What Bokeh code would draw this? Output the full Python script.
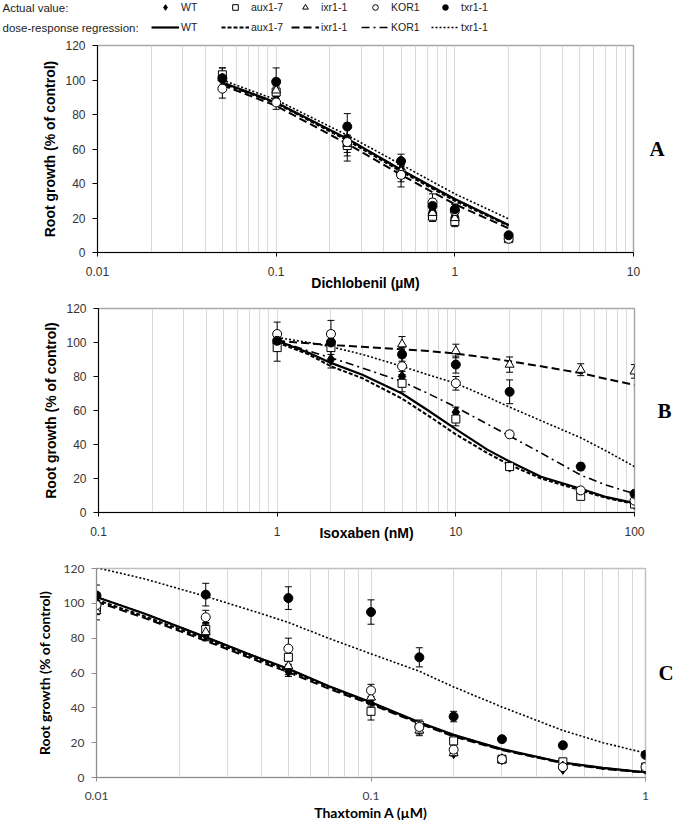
from bokeh.plotting import figure
from bokeh.layouts import column
from bokeh.models import (ColumnDataSource, Whisker, TeeHead, FixedTicker, LinearAxis,
                          CustomJSTickFormatter, Legend, LegendItem, Label, Range1d)
from bokeh.embed import file_html
from bokeh.resources import INLINE

strains = ["WT", "aux1-7", "ixr1-1", "KOR1", "txr1-1"]
y_ticks = [0, 20, 40, 60, 80, 100, 120]

# ---------------- Panel A : Dichlobenil (uM) ----------------
a_x = [0.05, 0.1, 0.25, 0.5, 0.75, 1, 2]
a_wt = [100, 91, 66, 48, 24, 21, 9]
a_wt_err = [5, 5, 6, 5, 4, 4, 1.5]
a_aux = [103, 93, 62, 46, 21, 18, 8]
a_aux_err = [4, 4, 6, 5, 3, 3, 1.5]
a_ixr = [101, 94, 63, 47, 23, 20, 8]
a_ixr_err = [4, 5, 5, 4, 3, 3, 1.5]
a_kor = [95, 87, 64, 45, 29, 24, 8]
a_kor_err = [5.5, 4, 11, 7, 5, 4, 1.5]
a_txr = [101, 99, 73, 53, 27, 25, 10]
a_txr_err = [6, 8, 7.5, 4, 4, 3, 1.5]

a_fx = [0.05, 0.1, 0.25, 0.5, 0.75, 1, 2]
a_fit_wt = [98.5, 87, 66, 48, 38, 31, 16]
a_fit_aux = [98, 86.5, 65, 47, 37, 30, 15.5]
a_fit_ixr = [97, 85, 63, 45, 35, 28, 14]
a_fit_kor = [98, 86.5, 66, 48, 38, 31, 16]
a_fit_txr = [100, 88.5, 68, 51, 41, 34, 19.5]

# ---------------- Panel B : Isoxaben (nM) ----------------
b_x = [1, 2, 5, 10, 20, 50, 100]
b_wt = [101, 90, 80, 59, 27, 11, 5]
b_wt_err = [3, 5, 3, 3, 2, 1.5, 1]
b_aux = [97, 97, 76, 55, 27, 9.5, 5]
b_aux_err = [8, 4, 5, 4, 2, 1.5, 1]
b_ixr = [101, 102, 99, 95, 87, 84, 83]
b_ixr_err = [5, 5, 4.5, 4, 4.5, 3.5, 4]
b_kor = [105, 105, 86, 76, 46, 13, 7]
b_kor_err = [7, 8, 5, 4, 2, 1.5, 1]
b_txr = [101, 100, 93, 87, 71, 27, 11]
b_txr_err = [4, 4, 4, 5, 7, 2, 1.5]

b_fx = [1, 1.5, 2, 3, 5, 7, 10, 15, 20, 30, 50, 70, 100]
b_fit_wt = [101, 94, 88, 81, 70, 60, 49, 37, 30, 21, 14, 9, 5.5]
b_fit_aux = [100, 93, 86, 79, 67, 57, 46, 35, 28, 20, 13, 8.5, 5]
b_fit_ixr = [101, 99.5, 98.5, 97.5, 96, 95, 93.5, 91, 89, 86, 82, 78.5, 75]
b_fit_kor = [101, 95, 91, 85, 77, 70, 62, 52, 45, 35, 22, 16, 11]
b_fit_txr = [103, 100, 97.5, 93, 86, 81, 76, 68, 62, 54, 44, 36, 27]

# ---------------- Panel C : Thaxtomin A (uM) ----------------
c_x = [0.01, 0.025, 0.05, 0.1, 0.15, 0.2, 0.3, 0.5, 1]
c_wt = [100, 82, 61, 45, 28, 14, 10.5, 5, 5]
c_wt_err = [4, 3, 3, 4, 3, 1.5, 1.5, 1, 1]
c_aux = [97.5, 85, 69, 38, 30, 21, 10.5, 9, 6]
c_aux_err = [4, 4, 4, 5, 3, 2, 1.5, 1.5, 1]
c_ixr = [95.5, 83.5, 64, 46, 27, 14, 10, 6.5, 5]
c_ixr_err = [5, 5, 5, 4, 3, 1.5, 1.5, 1, 1]
c_kor = [99, 92, 74, 50, 29, 16, 10.5, 6, 6]
c_kor_err = [5, 4, 6, 3.5, 3, 2, 1.5, 1, 1]
c_txr = [104.5, 105, 103, 95, 69, 35, 22, 18.5, 13]
c_txr_err = [6, 6.5, 6.5, 7, 5.5, 3, 1.5, 1.5, 1]

c_fx = [0.01, 0.015, 0.025, 0.04, 0.05, 0.07, 0.1, 0.15, 0.2, 0.3, 0.5, 0.7, 1]
c_fit_wt = [103.6, 94, 80.6, 68, 62.4, 52.5, 43.2, 31.7, 24.5, 16.3, 8.6, 5.5, 3]
c_fit_aux = [102, 92.5, 79.5, 67, 61.5, 52, 42.5, 31.3, 24, 16, 8.4, 5.2, 2.9]
c_fit_ixr = [101, 91.5, 78.5, 66, 60.5, 51, 42, 31, 23.5, 15.8, 8.2, 5, 2.8]
c_fit_kor = [103.6, 94, 80.6, 68, 62.4, 52.5, 43.2, 31.7, 24.5, 16.3, 8.6, 5.5, 3]
c_fit_txr = [120.5, 114, 104, 94, 89, 80, 71, 61, 52, 40.5, 27, 20, 14]

MARK = {
    "WT": dict(marker="diamond", size=11, fill_color="black", line_color="black"),
    "aux1-7": dict(marker="square", size=8, fill_color="white", line_color="black"),
    "ixr1-1": dict(marker="triangle", size=9, fill_color="white", line_color="black"),
    "KOR1": dict(marker="circle", size=9, fill_color="white", line_color="black"),
    "txr1-1": dict(marker="circle", size=9, fill_color="black", line_color="black"),
}
LINE = {
    "WT": dict(line_dash="solid", line_width=2.2),
    "aux1-7": dict(line_dash="4 2", line_width=2),
    "ixr1-1": dict(line_dash="8 4", line_width=2),
    "KOR1": dict(line_dash="8 4 2 4", line_width=1.6),
    "txr1-1": dict(line_dash="2 2", line_width=1.6),
}

SANS = "Liberation Sans"
SERIF = "Liberation Serif"
CAL = "Lato"

A_vals = {"WT": a_wt, "aux1-7": a_aux, "ixr1-1": a_ixr, "KOR1": a_kor, "txr1-1": a_txr}
A_errs = {"WT": a_wt_err, "aux1-7": a_aux_err, "ixr1-1": a_ixr_err, "KOR1": a_kor_err, "txr1-1": a_txr_err}
A_fits = {"WT": a_fit_wt, "aux1-7": a_fit_aux, "ixr1-1": a_fit_ixr, "KOR1": a_fit_kor, "txr1-1": a_fit_txr}


def minors(lo, hi):
    out = []
    for e in range(lo, hi):
        for m in range(2, 10):
            out.append(float("%.6g" % (m * 10 ** e)))
    return out


def panel(width, height, borders, xr, majors, minor_t, font, axis_color, outline_color,
          tick_color, ylab_standoff, xlabel, xlab_standoff, letter, letter_standoff):
    l, r, t, b = borders
    p = figure(width=width, height=height, x_axis_type="log",
               x_range=Range1d(*xr), y_range=Range1d(0, 120),
               output_backend="svg", toolbar_location=None, frame_align=False,
               min_border_left=l, min_border_right=r, min_border_top=t, min_border_bottom=b)
    tk = FixedTicker(ticks=majors, minor_ticks=minor_t)
    p.xaxis.ticker = tk
    p.xgrid.ticker = tk
    p.xaxis.formatter = CustomJSTickFormatter(code="return String(tick);")
    p.yaxis.ticker = FixedTicker(ticks=y_ticks)
    p.ygrid.visible = False
    p.xgrid.grid_line_color = "#d9d9d9"
    p.xgrid.minor_grid_line_color = "#d9d9d9"
    p.outline_line_color = outline_color
    p.outline_line_width = 1.5
    for ax in (p.xaxis, p.yaxis):
        ax.axis_line_color = axis_color
        ax.major_tick_line_color = axis_color
        ax.minor_tick_line_color = None
        ax.major_tick_in = 0
        ax.major_tick_out = 5
        ax.major_label_text_font = font
        ax.major_label_text_font_size = "12px"
        ax.major_label_text_color = tick_color
    p.xaxis.major_tick_out = 4
    p.xaxis.major_label_standoff = 10
    p.yaxis.major_label_standoff = 7
    p.yaxis.axis_label = "Root growth (% of control)"
    p.yaxis.axis_label_text_font = font
    p.yaxis.axis_label_text_font_style = "bold"
    p.yaxis.axis_label_text_font_size = "14px"
    p.yaxis.axis_label_text_color = "black"
    p.yaxis.axis_label_standoff = ylab_standoff
    p.xaxis.axis_label = xlabel
    p.xaxis.axis_label_text_font = font
    p.xaxis.axis_label_text_font_style = "bold"
    p.xaxis.axis_label_text_font_size = "14px"
    p.xaxis.axis_label_text_color = "black"
    p.xaxis.axis_label_standoff = xlab_standoff
    rax = LinearAxis(ticker=FixedTicker(ticks=[]), axis_line_color=None,
                     major_tick_line_color=None, minor_tick_line_color=None,
                     major_tick_out=0, major_label_standoff=0,
                     axis_label=letter, axis_label_orientation="horizontal",
                     axis_label_text_font=SERIF, axis_label_text_font_style="bold",
                     axis_label_text_font_size="21px", axis_label_text_color="black",
                     axis_label_standoff=letter_standoff)
    p.add_layout(rax, "right")
    p.background_fill_color = "white"
    p.border_fill_color = "white"
    return p


def draw(p, xs, vals, errs, fx, fits):
    for s in strains:
        p.line(fx, fits[s], line_color="black", **LINE[s])
    for s in strains:
        src = ColumnDataSource(dict(
            x=xs, upper=[v + e for v, e in zip(vals[s], errs[s])],
            lower=[v - e for v, e in zip(vals[s], errs[s])]))
        p.add_layout(Whisker(base="x", upper="upper", lower="lower", source=src,
                             line_color="black", line_width=1,
                             upper_head=TeeHead(size=7, line_color="black", line_width=1),
                             lower_head=TeeHead(size=7, line_color="black", line_width=1)))
    for s in strains:
        p.scatter(xs, vals[s], line_width=1, **MARK[s])


# ---- Legend strip (series drawn outside its visible range, only their legend shows)
pL = figure(width=683, height=40, x_range=Range1d(100, 101), y_range=Range1d(1000, 1001),
            output_backend="svg", toolbar_location=None, x_axis_location=None,
            y_axis_location=None, min_border_left=0, min_border_right=0,
            min_border_top=0, min_border_bottom=0, outline_line_color=None,
            frame_align=False)
pL.grid.visible = False
mk = {s: pL.scatter(a_x, A_vals[s], line_width=1, **MARK[s]) for s in strains}
ln = {s: pL.line(a_fx, A_fits[s], line_color="black", **LINE[s]) for s in strains}
common = dict(orientation="horizontal", glyph_width=28, label_width=40,
              label_height=12, label_standoff=2, spacing=0, padding=0, margin=0,
              border_line_alpha=0, background_fill_alpha=0,
              label_text_font=SANS, label_text_font_size="10.5px", label_text_color="#222222")
pL.add_layout(Legend(items=[LegendItem(label=s, renderers=[mk[s]]) for s in strains],
                     location=(151, 26), glyph_height=14, **common), "center")
pL.add_layout(Legend(items=[LegendItem(label=s, renderers=[ln[s]]) for s in strains],
                     location=(151, 7), glyph_height=12, **common), "center")
for yy, txt in ((33, "Actual value:"), (13, "dose-response regression:")):
    pL.add_layout(Label(x=2, y=yy, x_units="screen", y_units="screen", text=txt,
                        text_font=SANS, text_font_size="11.5px", text_align="left",
                        text_baseline="middle", text_color="#222222"))

# ---- A
pA = panel(677, 256, (97, 44, 5, 44), (0.01, 10), [0.01, 0.1, 1, 10], minors(-2, 1),
           SANS, "black", "#a6a6a6", "#333333", 4, "Dichlobenil (\u00b5M)", -4, "A", 16)
draw(pA, a_x, A_vals, A_errs, a_fx, A_fits)

# ---- B
pB = panel(682, 264, (98, 48, 12, 48), (0.1, 100), [0.1, 1, 10, 100], minors(-1, 2),
           SANS, "black", "#a6a6a6", "#333333", 4, "Isoxaben (nM)", -14, "B", 23)
draw(pB, b_x,
     {"WT": b_wt, "aux1-7": b_aux, "ixr1-1": b_ixr, "KOR1": b_kor, "txr1-1": b_txr},
     {"WT": b_wt_err, "aux1-7": b_aux_err, "ixr1-1": b_ixr_err, "KOR1": b_kor_err, "txr1-1": b_txr_err},
     b_fx,
     {"WT": b_fit_wt, "aux1-7": b_fit_aux, "ixr1-1": b_fit_ixr, "KOR1": b_fit_kor, "txr1-1": b_fit_txr})

# ---- C
pC = panel(683, 265, (96, 38, 8, 48), (0.01, 1), [0.01, 0.1, 1], minors(-2, 0),
           CAL, "#8c8c8c", "#bfbfbf", "#404040", 8, "Thaxtomin A (\u00b5M)", 1, "C", 13)
draw(pC, c_x,
     {"WT": c_wt, "aux1-7": c_aux, "ixr1-1": c_ixr, "KOR1": c_kor, "txr1-1": c_txr},
     {"WT": c_wt_err, "aux1-7": c_aux_err, "ixr1-1": c_ixr_err, "KOR1": c_kor_err, "txr1-1": c_txr_err},
     c_fx,
     {"WT": c_fit_wt, "aux1-7": c_fit_aux, "ixr1-1": c_fit_ixr, "KOR1": c_fit_kor, "txr1-1": c_fit_txr})

layout = column(pL, pA, pB, pC, spacing=0)
open("out.html", "w").write(file_html(layout, INLINE))
